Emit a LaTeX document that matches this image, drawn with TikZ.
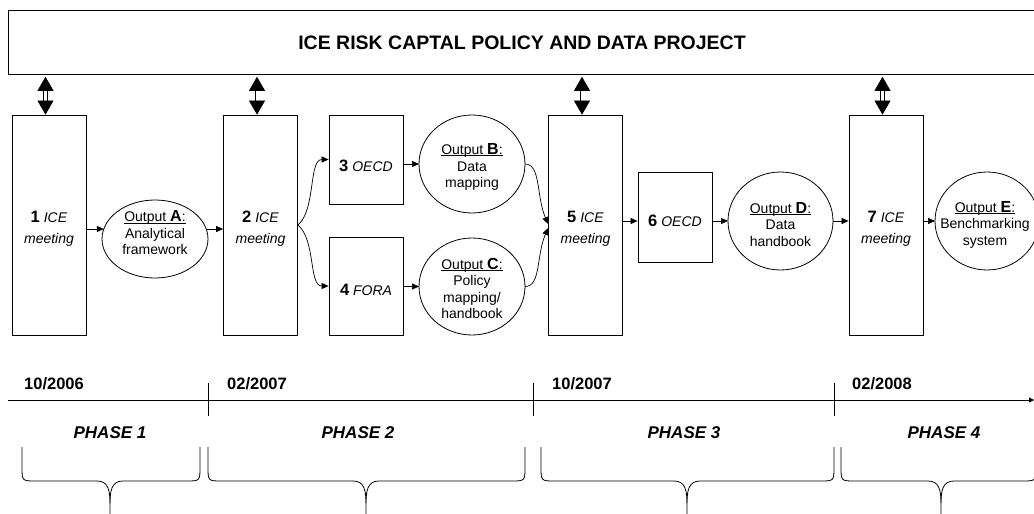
\documentclass[tikz,border=0pt]{standalone}
\usepackage{fontspec}
\setmainfont{Liberation Sans}
\usetikzlibrary{arrows.meta,shapes.geometric,calc}
\newcommand\myfs[2]{\fontsize{#1pt}{#2pt}\selectfont}
\newcommand\ulx[1]{\setbox0\hbox{#1}\rlap{\rule[-1.6pt]{\wd0}{0.8pt}}\box0}
\newcommand\outp[1]{\ulx{Output {\bfseries\myfs{16}{16.5}#1}:}}
\newcommand\mybrace[3]{%
  \draw[brace] (#1,447) -- (#1,467) .. controls (#1,481) .. ({#1+14},481) -- ({#2-13},481)
    .. controls ({#2-2},481) and (#2,490) .. (#2,503) -- (#2,516);
  \draw[brace] (#2,503) .. controls (#2,490) and ({#2+2},481) .. ({#2+13},481) -- ({#3-14},481)
    .. controls (#3,481) .. (#3,467) -- (#3,447);}
\begin{document}
\begin{tikzpicture}[x=1pt,y=-1pt,
  box/.style={draw, line width=0.8pt, minimum width=74pt, inner sep=0pt},
  oval/.style={draw, ellipse, line width=0.8pt, inner sep=0pt, outer sep=0pt},
  btxt/.style={inner sep=0pt, align=center, font=\myfs{14}{21}},
  otxt/.style={inner sep=0pt, align=center, font=\myfs{14}{16.5}},
  arr/.style={line width=0.7pt, -{Triangle[length=7pt,width=6pt]}},
  dbl/.style={double, double distance=3pt, line width=0.6pt, {Triangle[length=14pt,width=16pt]}-{Triangle[length=14pt,width=16pt]}, shorten <=2pt},
  date/.style={font=\bfseries\myfs{16.5}{18}, inner sep=0pt},
  phase/.style={font=\bfseries\itshape\myfs{17}{19}, inner sep=0pt},
  brace/.style={line width=0.8pt}]
\useasboundingbox (0,0) rectangle (1034,514);
\clip (0,0) rectangle (1034,514);
% top box
\node[draw, line width=0.8pt, anchor=north west, minimum width=1040pt, minimum height=64pt, inner sep=0pt] (top) at (8,10) {};
\node[font=\bfseries\myfs{19.5}{22}, anchor=base, inner sep=0pt] (title) at (522,49) {ICE RISK CAPTAL POLICY AND DATA PROJECT};
% boxes
\node[box, minimum height=220pt] (b1) at (49,225) {};
\node[box, minimum height=220pt] (b2) at (260.5,225) {};
\node[box, minimum height=89pt] (b3) at (366,159.5) {};
\node[box, minimum height=98pt] (b4) at (366,286) {};
\node[box, minimum height=220pt] (b5) at (585.5,225) {};
\node[box, minimum height=90pt] (b6) at (675,217) {};
\node[box, minimum height=220pt] (b7) at (886,225) {};
\node[btxt] (t1) at (49,229) {{\bfseries\myfs{16.5}{21}1} \textit{ICE}\\\textit{meeting}};
\node[btxt] (t2) at (260.5,229) {{\bfseries\myfs{16.5}{21}2} \textit{ICE}\\\textit{meeting}};
\node[btxt] (t3) at (366,166) {{\bfseries\myfs{16.5}{21}3} \textit{OECD}};
\node[btxt] (t4) at (366,290) {{\bfseries\myfs{16.5}{21}4} \textit{FORA}};
\node[btxt] (t5) at (585.5,229) {{\bfseries\myfs{16.5}{21}5} \textit{ICE}\\\textit{meeting}};
\node[btxt] (t6) at (675,221) {{\bfseries\myfs{16.5}{21}6} \textit{OECD}};
\node[btxt] (t7) at (886,229) {{\bfseries\myfs{16.5}{21}7} \textit{ICE}\\\textit{meeting}};
% ovals
\node[oval, minimum width=106pt, minimum height=78pt] (oA) at (155,239) {};
\node[oval, minimum width=106pt, minimum height=98pt] (oB) at (472,164) {};
\node[oval, minimum width=106pt, minimum height=97pt] (oC) at (472,286.5) {};
\node[oval, minimum width=105pt, minimum height=98pt] (oD) at (780.5,221) {};
\node[oval, minimum width=104pt, minimum height=98pt] (oE) at (987,221) {};
\node[otxt] (tA) at (155,233) {\outp{A}\\Analytical\\framework};
\node[otxt] (tB) at (472,167) {\outp{B}\\Data\\mapping};
\node[otxt] (tC) at (472,288.5) {\outp{C}\\Policy\\mapping/\\handbook};
\node[otxt] (tD) at (780.5,224.5) {\outp{D}\\Data\\handbook};
\node[otxt] (tE) at (985,224.5) {\outp{E}\\Benchmarking\\system};
% double arrows
\foreach \n in {b1,b2,b5,b7}
  \draw[dbl] ([xshift=-3.5pt]top.south -| \n.north) -- ([xshift=-3.5pt]\n.north);
% connectors
\draw[arr] (b1.east |- oA.169) -- (oA.169);
\draw[arr] (oA.11) -- (b2.west |- oA.11);
\draw[arr] (b2.east) .. controls +(18,-15) and +(-20,0) .. (b3.west);
\draw[arr] (b2.east) .. controls +(18,15) and +(-20,0) .. (b4.west);
\draw[arr] (b3.east |- oB.west) -- (oB.west);
\draw[arr] (b4.east |- oC.west) -- (oC.west);
\draw[arr] (oB.east) .. controls +(16,0) and +(-12,-28) .. ([yshift=1pt]b5.west);
\draw[arr] (oC.east) .. controls +(16,0) and +(-12,28) .. ([yshift=-3pt]b5.west);
\draw[arr] (b5.east |- oD.west) -- (b6.west |- oD.west);
\draw[arr] (b6.east |- oD.west) -- (oD.west);
\draw[arr] (oD.east) -- (b7.west |- oD.east);
\draw[arr] (b7.east |- oE.west) -- (oE.west);
% timeline
\coordinate (tl0) at (8,400);
\coordinate (tl1) at (1034,400);
\draw[line width=0.8pt, -{Triangle[length=5pt,width=5pt]}] (tl0) -- (tl1);
\foreach \x in {208,533,834} \draw[line width=0.8pt] (\x,383) -- (\x,416);
\node[date, anchor=base west] (d1) at (24,389.5) {10/2006};
\node[date, anchor=base west] (d2) at (227,389.5) {02/2007};
\node[date, anchor=base west] (d3) at (552,389.5) {10/2007};
\node[date, anchor=base west] (d4) at (852,389.5) {02/2008};
\node[phase, anchor=base] (p1) at (110,438) {PHASE 1};
\node[phase, anchor=base] (p2) at (358,438) {PHASE 2};
\node[phase, anchor=base] (p3) at (684,438) {PHASE 3};
\node[phase, anchor=base] (p4) at (944,438) {PHASE 4};
% braces
\mybrace{22}{110}{200}
\mybrace{208}{366}{525}
\mybrace{541}{687}{834}
\mybrace{841}{941}{1036}
\end{tikzpicture}
\end{document}
